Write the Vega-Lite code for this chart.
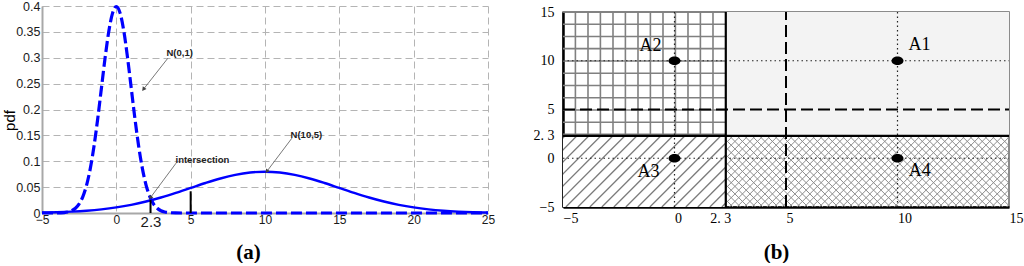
{
"$schema": "https://vega.github.io/schema/vega-lite/v6.json",
"background": "white",
"padding": {"left": 2, "top": 0, "right": 0, "bottom": 0},
"bounds": "flush",
"center": true,
"spacing": 75,
"config": {"view": {"stroke": null}, "axis": {"ticks": false, "labelFlush": false, "labelOverlap": false, "labelBound": false}},
"datasets": {
"curves": [
{"s":"N(0,1)","x":-5,"y":0.0000015},{"s":"N(0,1)","x":-4.5,"y":0.000016},{"s":"N(0,1)","x":-4,"y":0.000134},{"s":"N(0,1)","x":-3.5,"y":0.000873},{"s":"N(0,1)","x":-3.25,"y":0.002029},{"s":"N(0,1)","x":-3,"y":0.004432},{"s":"N(0,1)","x":-2.75,"y":0.009094},{"s":"N(0,1)","x":-2.5,"y":0.017528},{"s":"N(0,1)","x":-2.25,"y":0.03174},{"s":"N(0,1)","x":-2,"y":0.053991},{"s":"N(0,1)","x":-1.75,"y":0.086277},{"s":"N(0,1)","x":-1.5,"y":0.129518},{"s":"N(0,1)","x":-1.25,"y":0.182649},{"s":"N(0,1)","x":-1,"y":0.241971},{"s":"N(0,1)","x":-0.75,"y":0.301137},{"s":"N(0,1)","x":-0.5,"y":0.352065},{"s":"N(0,1)","x":-0.25,"y":0.386668},{"s":"N(0,1)","x":0,"y":0.398942},{"s":"N(0,1)","x":0.25,"y":0.386668},{"s":"N(0,1)","x":0.5,"y":0.352065},{"s":"N(0,1)","x":0.75,"y":0.301137},{"s":"N(0,1)","x":1,"y":0.241971},{"s":"N(0,1)","x":1.25,"y":0.182649},{"s":"N(0,1)","x":1.5,"y":0.129518},{"s":"N(0,1)","x":1.75,"y":0.086277},{"s":"N(0,1)","x":2,"y":0.053991},{"s":"N(0,1)","x":2.25,"y":0.03174},{"s":"N(0,1)","x":2.5,"y":0.017528},{"s":"N(0,1)","x":2.75,"y":0.009094},{"s":"N(0,1)","x":3,"y":0.004432},{"s":"N(0,1)","x":3.25,"y":0.002029},{"s":"N(0,1)","x":3.5,"y":0.000873},{"s":"N(0,1)","x":4,"y":0.000134},{"s":"N(0,1)","x":4.5,"y":0.000016},{"s":"N(0,1)","x":5,"y":0.0000015},{"s":"N(0,1)","x":10,"y":0},{"s":"N(0,1)","x":15,"y":0},{"s":"N(0,1)","x":20,"y":0},{"s":"N(0,1)","x":25,"y":0},
{"s":"N(10,5)","x":-5,"y":0.000886},{"s":"N(10,5)","x":-4,"y":0.001583},{"s":"N(10,5)","x":-3,"y":0.002717},{"s":"N(10,5)","x":-2,"y":0.004479},{"s":"N(10,5)","x":-1,"y":0.007095},{"s":"N(10,5)","x":0,"y":0.010798},{"s":"N(10,5)","x":1,"y":0.01579},{"s":"N(10,5)","x":2,"y":0.022184},{"s":"N(10,5)","x":3,"y":0.029945},{"s":"N(10,5)","x":4,"y":0.038837},{"s":"N(10,5)","x":5,"y":0.048394},{"s":"N(10,5)","x":6,"y":0.057938},{"s":"N(10,5)","x":7,"y":0.066645},{"s":"N(10,5)","x":8,"y":0.073654},{"s":"N(10,5)","x":9,"y":0.078208},{"s":"N(10,5)","x":10,"y":0.079788},{"s":"N(10,5)","x":11,"y":0.078208},{"s":"N(10,5)","x":12,"y":0.073654},{"s":"N(10,5)","x":13,"y":0.066645},{"s":"N(10,5)","x":14,"y":0.057938},{"s":"N(10,5)","x":15,"y":0.048394},{"s":"N(10,5)","x":16,"y":0.038837},{"s":"N(10,5)","x":17,"y":0.029945},{"s":"N(10,5)","x":18,"y":0.022184},{"s":"N(10,5)","x":19,"y":0.01579},{"s":"N(10,5)","x":20,"y":0.010798},{"s":"N(10,5)","x":21,"y":0.007095},{"s":"N(10,5)","x":22,"y":0.004479},{"s":"N(10,5)","x":23,"y":0.002717},{"s":"N(10,5)","x":24,"y":0.001583},{"s":"N(10,5)","x":25,"y":0.000886}
],
"cuts": [{"x":2.3,"y":0,"y2":0.025},{"x":5,"y":0,"y2":0.042}],
"arrows": [{"x":3.458,"y":0.2988,"x2":1.822,"y2":0.239},{"x":4.02,"y":0.0964,"x2":2.29,"y2":0.0295},{"x":11.81,"y":0.1446,"x2":10.12,"y2":0.0802}],
"heads": [{"x":1.822,"y":0.239},{"x":2.29,"y":0.0295},{"x":10.12,"y":0.0802}],
"notes": [{"x":3.37,"y":0.309,"label":"N(0,1)"},{"x":3.98,"y":0.1027,"label":"intersection"},{"x":11.72,"y":0.151,"label":"N(10,5)"}],
"xhatch": [
{"x":-0.9,"y":-5,"x2":2.29,"y2":2.3},{"x":-0.564,"y":-5,"x2":2.626,"y2":2.3},{"x":-0.228,"y":-5,"x2":2.962,"y2":2.3},{"x":0.108,"y":-5,"x2":3.298,"y2":2.3},{"x":0.444,"y":-5,"x2":3.634,"y2":2.3},{"x":0.78,"y":-5,"x2":3.97,"y2":2.3},{"x":1.116,"y":-5,"x2":4.306,"y2":2.3},{"x":1.452,"y":-5,"x2":4.642,"y2":2.3},{"x":1.788,"y":-5,"x2":4.978,"y2":2.3},{"x":2.124,"y":-5,"x2":5.314,"y2":2.3},{"x":2.46,"y":-5,"x2":5.65,"y2":2.3},{"x":2.796,"y":-5,"x2":5.986,"y2":2.3},{"x":3.132,"y":-5,"x2":6.322,"y2":2.3},{"x":3.468,"y":-5,"x2":6.658,"y2":2.3},{"x":3.804,"y":-5,"x2":6.994,"y2":2.3},{"x":4.14,"y":-5,"x2":7.33,"y2":2.3},{"x":4.476,"y":-5,"x2":7.666,"y2":2.3},{"x":4.812,"y":-5,"x2":8.002,"y2":2.3},{"x":5.148,"y":-5,"x2":8.338,"y2":2.3},{"x":5.484,"y":-5,"x2":8.674,"y2":2.3},{"x":5.82,"y":-5,"x2":9.01,"y2":2.3},{"x":6.156,"y":-5,"x2":9.346,"y2":2.3},{"x":6.492,"y":-5,"x2":9.682,"y2":2.3},{"x":6.828,"y":-5,"x2":10.018,"y2":2.3},{"x":7.164,"y":-5,"x2":10.354,"y2":2.3},{"x":7.5,"y":-5,"x2":10.69,"y2":2.3},{"x":7.836,"y":-5,"x2":11.026,"y2":2.3},{"x":8.172,"y":-5,"x2":11.362,"y2":2.3},{"x":8.508,"y":-5,"x2":11.698,"y2":2.3},{"x":8.844,"y":-5,"x2":12.034,"y2":2.3},{"x":9.18,"y":-5,"x2":12.37,"y2":2.3},{"x":9.516,"y":-5,"x2":12.706,"y2":2.3},{"x":9.852,"y":-5,"x2":13.042,"y2":2.3},{"x":10.188,"y":-5,"x2":13.378,"y2":2.3},{"x":10.524,"y":-5,"x2":13.714,"y2":2.3},{"x":10.86,"y":-5,"x2":14.05,"y2":2.3},{"x":11.196,"y":-5,"x2":14.386,"y2":2.3},{"x":11.532,"y":-5,"x2":14.722,"y2":2.3},{"x":11.868,"y":-5,"x2":15.058,"y2":2.3},{"x":12.204,"y":-5,"x2":15.394,"y2":2.3},{"x":12.54,"y":-5,"x2":15.73,"y2":2.3},{"x":12.876,"y":-5,"x2":16.066,"y2":2.3},{"x":13.212,"y":-5,"x2":16.402,"y2":2.3},{"x":13.548,"y":-5,"x2":16.738,"y2":2.3},{"x":13.884,"y":-5,"x2":17.074,"y2":2.3},{"x":14.22,"y":-5,"x2":17.41,"y2":2.3},{"x":14.556,"y":-5,"x2":17.746,"y2":2.3},{"x":14.892,"y":-5,"x2":18.082,"y2":2.3},
{"x":-0.9,"y":2.3,"x2":2.29,"y2":-5},{"x":-0.564,"y":2.3,"x2":2.626,"y2":-5},{"x":-0.228,"y":2.3,"x2":2.962,"y2":-5},{"x":0.108,"y":2.3,"x2":3.298,"y2":-5},{"x":0.444,"y":2.3,"x2":3.634,"y2":-5},{"x":0.78,"y":2.3,"x2":3.97,"y2":-5},{"x":1.116,"y":2.3,"x2":4.306,"y2":-5},{"x":1.452,"y":2.3,"x2":4.642,"y2":-5},{"x":1.788,"y":2.3,"x2":4.978,"y2":-5},{"x":2.124,"y":2.3,"x2":5.314,"y2":-5},{"x":2.46,"y":2.3,"x2":5.65,"y2":-5},{"x":2.796,"y":2.3,"x2":5.986,"y2":-5},{"x":3.132,"y":2.3,"x2":6.322,"y2":-5},{"x":3.468,"y":2.3,"x2":6.658,"y2":-5},{"x":3.804,"y":2.3,"x2":6.994,"y2":-5},{"x":4.14,"y":2.3,"x2":7.33,"y2":-5},{"x":4.476,"y":2.3,"x2":7.666,"y2":-5},{"x":4.812,"y":2.3,"x2":8.002,"y2":-5},{"x":5.148,"y":2.3,"x2":8.338,"y2":-5},{"x":5.484,"y":2.3,"x2":8.674,"y2":-5},{"x":5.82,"y":2.3,"x2":9.01,"y2":-5},{"x":6.156,"y":2.3,"x2":9.346,"y2":-5},{"x":6.492,"y":2.3,"x2":9.682,"y2":-5},{"x":6.828,"y":2.3,"x2":10.018,"y2":-5},{"x":7.164,"y":2.3,"x2":10.354,"y2":-5},{"x":7.5,"y":2.3,"x2":10.69,"y2":-5},{"x":7.836,"y":2.3,"x2":11.026,"y2":-5},{"x":8.172,"y":2.3,"x2":11.362,"y2":-5},{"x":8.508,"y":2.3,"x2":11.698,"y2":-5},{"x":8.844,"y":2.3,"x2":12.034,"y2":-5},{"x":9.18,"y":2.3,"x2":12.37,"y2":-5},{"x":9.516,"y":2.3,"x2":12.706,"y2":-5},{"x":9.852,"y":2.3,"x2":13.042,"y2":-5},{"x":10.188,"y":2.3,"x2":13.378,"y2":-5},{"x":10.524,"y":2.3,"x2":13.714,"y2":-5},{"x":10.86,"y":2.3,"x2":14.05,"y2":-5},{"x":11.196,"y":2.3,"x2":14.386,"y2":-5},{"x":11.532,"y":2.3,"x2":14.722,"y2":-5},{"x":11.868,"y":2.3,"x2":15.058,"y2":-5},{"x":12.204,"y":2.3,"x2":15.394,"y2":-5},{"x":12.54,"y":2.3,"x2":15.73,"y2":-5},{"x":12.876,"y":2.3,"x2":16.066,"y2":-5},{"x":13.212,"y":2.3,"x2":16.402,"y2":-5},{"x":13.548,"y":2.3,"x2":16.738,"y2":-5},{"x":13.884,"y":2.3,"x2":17.074,"y2":-5},{"x":14.22,"y":2.3,"x2":17.41,"y2":-5},{"x":14.556,"y":2.3,"x2":17.746,"y2":-5},{"x":14.892,"y":2.3,"x2":18.082,"y2":-5}
],
"regions": [{"r":"A1","x":2.3,"y":2.3,"x2":15,"y2":15},{"r":"A3","x":-5,"y":-5,"x2":2.3,"y2":2.3}],
"hatch": [
{"x":-8.1,"y":-5,"x2":-4.91,"y2":2.3},{"x":-7.562,"y":-5,"x2":-4.372,"y2":2.3},{"x":-7.024,"y":-5,"x2":-3.834,"y2":2.3},{"x":-6.486,"y":-5,"x2":-3.296,"y2":2.3},{"x":-5.948,"y":-5,"x2":-2.758,"y2":2.3},{"x":-5.41,"y":-5,"x2":-2.22,"y2":2.3},{"x":-4.872,"y":-5,"x2":-1.682,"y2":2.3},{"x":-4.334,"y":-5,"x2":-1.144,"y2":2.3},{"x":-3.796,"y":-5,"x2":-0.606,"y2":2.3},{"x":-3.258,"y":-5,"x2":-0.068,"y2":2.3},{"x":-2.72,"y":-5,"x2":0.47,"y2":2.3},{"x":-2.182,"y":-5,"x2":1.008,"y2":2.3},{"x":-1.644,"y":-5,"x2":1.546,"y2":2.3},{"x":-1.106,"y":-5,"x2":2.084,"y2":2.3},{"x":-0.568,"y":-5,"x2":2.3,"y2":1.559},{"x":-0.03,"y":-5,"x2":2.3,"y2":0.329},{"x":0.508,"y":-5,"x2":2.3,"y2":-0.902},{"x":1.046,"y":-5,"x2":2.3,"y2":-2.132},{"x":1.584,"y":-5,"x2":2.3,"y2":-3.363},{"x":2.122,"y":-5,"x2":2.3,"y2":-4.593}
],
"gridv": [{"x":-4.444,"y":2.3,"y2":15},{"x":-3.879,"y":2.3,"y2":15},{"x":-3.323,"y":2.3,"y2":15},{"x":-2.758,"y":2.3,"y2":15},{"x":-2.202,"y":2.3,"y2":15},{"x":-1.637,"y":2.3,"y2":15},{"x":-1.081,"y":2.3,"y2":15},{"x":-0.516,"y":2.3,"y2":15},{"x":0.04,"y":2.3,"y2":15},{"x":0.605,"y":2.3,"y2":15},{"x":1.161,"y":2.3,"y2":15},{"x":1.726,"y":2.3,"y2":15}],
"gridh": [{"y":15,"x":-5,"x2":2.3},{"y":13.74,"x":-5,"x2":2.3},{"y":12.49,"x":-5,"x2":2.3},{"y":11.24,"x":-5,"x2":2.3},{"y":9.98,"x":-5,"x2":2.3},{"y":8.72,"x":-5,"x2":2.3},{"y":7.46,"x":-5,"x2":2.3},{"y":6.2,"x":-5,"x2":2.3},{"y":4.95,"x":-5,"x2":2.3},{"y":3.7,"x":-5,"x2":2.3},{"y":2.45,"x":-5,"x2":2.3}],
"dotv": [{"x":0,"y":-5,"y2":15},{"x":10,"y":-5,"y2":15}],
"doth": [{"y":0,"x":-5,"x2":15},{"y":10,"x":-5,"x2":15}],
"dashv": [{"x":5,"y":-5,"y2":15}],
"dashh": [{"y":5,"x":-5,"x2":15}],
"solidv": [{"x":2.3,"y":-5,"y2":15}],
"solidh": [{"y":2.3,"x":-5,"x2":15}],
"pts": [{"x":0,"y":10},{"x":10,"y":10},{"x":0,"y":0},{"x":10,"y":0}],
"labs": [{"x":-1.08,"y":11.55,"label":"A2"},{"x":10.99,"y":11.6,"label":"A1"},{"x":-1.17,"y":-1.39,"label":"A3"},{"x":11.0,"y":-1.34,"label":"A4"}]
},
"hconcat": [
{
"width": 446, "height": 207,
"encoding": {
"x": {"field": "x", "type": "quantitative", "scale": {"domain": [-5, 25], "nice": false, "zero": false},
"axis": {"values": [-5, 0, 2.3, 5, 10, 15, 20, 25], "format": ".1~f", "grid": true, "gridColor": "#b4b4b4", "gridDash": [7, 4], "gridWidth": 1,
"gridOpacity": {"condition": {"test": "datum.value === 2.3", "value": 0}, "value": 1},
"domainColor": "#a8a8a8", "domainWidth": 2, "labelFont": "Liberation Sans",
"labelFontSize": {"condition": {"test": "datum.value === 2.3", "value": 15}, "value": 12},
"labelColor": "#1a1a1a", "labelPadding": 1,
"title": "(a)", "titleFont": "Liberation Serif", "titleFontWeight": "bold", "titleFontSize": 21, "titleColor": "#000", "titleX": 206, "titleY": 39, "titleBaseline": "middle", "titleAlign": "center"}},
"y": {"field": "y", "type": "quantitative", "scale": {"domain": [0, 0.4], "nice": false, "zero": false},
"axis": {"values": [0, 0.05, 0.1, 0.15, 0.2, 0.25, 0.3, 0.35, 0.4], "format": ".2~f", "grid": true, "gridColor": "#b4b4b4", "gridDash": [7, 4], "gridWidth": 1,
"domainColor": "#a8a8a8", "domainWidth": 2, "labelFont": "Liberation Sans", "labelFontSize": 12.5, "labelColor": "#1a1a1a", "labelPadding": 2,
"title": "pdf", "titleFont": "Liberation Sans", "titleFontSize": 15, "titleFontWeight": "normal", "titleColor": "#000", "titleX": -33, "titleY": 114, "titleBaseline": "middle", "titleAlign": "center", "titleAngle": -90}}
},
"layer": [
{"data": {"name": "curves"}, "transform": [{"filter": "datum.s === 'N(10,5)'"}], "mark": {"type": "line", "color": "#0000ff", "strokeWidth": 2.4, "interpolate": "monotone"}},
{"data": {"name": "curves"}, "transform": [{"filter": "datum.s === 'N(0,1)'"}], "mark": {"type": "line", "color": "#0000ff", "strokeWidth": 3.2, "strokeDash": [11, 4], "interpolate": "monotone"}},
{"data": {"name": "cuts"}, "mark": {"type": "rule", "color": "#000", "strokeWidth": 2}, "encoding": {"y2": {"field": "y2"}}},
{"data": {"name": "arrows"}, "mark": {"type": "rule", "color": "#555", "strokeWidth": 0.8}, "encoding": {"x2": {"field": "x2"}, "y2": {"field": "y2"}}},
{"data": {"name": "heads"}, "mark": {"type": "point", "shape": "triangle-up", "filled": true, "color": "#444", "size": 22, "angle": 217, "opacity": 1}},
{"data": {"name": "notes"}, "mark": {"type": "text", "align": "left", "baseline": "middle", "font": "Liberation Sans", "fontSize": 9.5, "fontWeight": "bold", "color": "#222"}, "encoding": {"text": {"field": "label"}}}
]
},
{
"width": 446, "height": 195,
"view": {"stroke": "#666", "strokeWidth": 1.5},
"encoding": {
"x": {"field": "x", "type": "quantitative", "scale": {"domain": [-5, 15], "nice": false, "zero": false},
"axis": {"values": [-5, 0, 2.3, 5, 10, 15], "format": ".1~f", "labelExpr": "datum.value === 2.3 ? '2. 3' : datum.label", "grid": false,
"domainColor": "#000", "domainWidth": 2.5, "labelFont": "Liberation Serif", "labelFontSize": 14, "labelColor": "#000", "labelAlign": "left",
"labelOffset": {"condition": {"test": "datum.value === 2.3", "value": -16}, "value": 0}, "labelPadding": 4,
"title": "(b)", "titleFont": "Liberation Serif", "titleFontWeight": "bold", "titleFontSize": 21, "titleColor": "#000", "titleX": 213, "titleY": 45, "titleBaseline": "middle", "titleAlign": "center"}},
"y": {"field": "y", "type": "quantitative", "scale": {"domain": [-5, 15], "nice": false, "zero": false},
"axis": {"values": [-5, 0, 2.3, 5, 10, 15], "format": ".1~f", "labelExpr": "datum.value === 2.3 ? '2. 3' : datum.label", "grid": false,
"domainColor": "#000", "domainWidth": 2.5, "labelFont": "Liberation Serif", "labelFontSize": 14, "labelColor": "#000", "labelPadding": 9, "title": null}}
},
"layer": [
{"data": {"name": "xhatch"}, "mark": {"type": "rule", "color": "#8c8c8c", "strokeWidth": 1, "clip": true}, "encoding": {"x2": {"field": "x2"}, "y2": {"field": "y2"}}},
{"data": {"name": "regions"}, "mark": {"type": "rect", "opacity": 1}, "encoding": {"x2": {"field": "x2"}, "y2": {"field": "y2"}, "color": {"field": "r", "type": "nominal", "scale": {"domain": ["A1", "A3"], "range": ["#f3f3f3", "#ffffff"]}, "legend": null}}},
{"data": {"name": "hatch"}, "mark": {"type": "rule", "color": "#7a7a7a", "strokeWidth": 1.3, "clip": true}, "encoding": {"x2": {"field": "x2"}, "y2": {"field": "y2"}}},
{"data": {"name": "gridv"}, "mark": {"type": "rule", "color": "#808080", "strokeWidth": 1.6}, "encoding": {"y2": {"field": "y2"}}},
{"data": {"name": "gridh"}, "mark": {"type": "rule", "color": "#808080", "strokeWidth": 1.6}, "encoding": {"x2": {"field": "x2"}}},
{"data": {"name": "dotv"}, "mark": {"type": "rule", "color": "#222", "strokeWidth": 1.2, "strokeDash": [1.5, 3]}, "encoding": {"y2": {"field": "y2"}}},
{"data": {"name": "doth"}, "mark": {"type": "rule", "color": "#222", "strokeWidth": 1.2, "strokeDash": [1.5, 3]}, "encoding": {"x2": {"field": "x2"}}},
{"data": {"name": "dashv"}, "mark": {"type": "rule", "color": "#000", "strokeWidth": 2, "strokeDash": [12, 5]}, "encoding": {"y2": {"field": "y2"}}},
{"data": {"name": "dashh"}, "mark": {"type": "rule", "color": "#000", "strokeWidth": 2, "strokeDash": [12, 5]}, "encoding": {"x2": {"field": "x2"}}},
{"data": {"name": "solidv"}, "mark": {"type": "rule", "color": "#000", "strokeWidth": 2.2}, "encoding": {"y2": {"field": "y2"}}},
{"data": {"name": "solidh"}, "mark": {"type": "rule", "color": "#000", "strokeWidth": 2.2}, "encoding": {"x2": {"field": "x2"}}},
{"data": {"name": "pts"}, "mark": {"type": "point", "shape": "M-1,0A1,0.72,0,1,0,1,0A1,0.72,0,1,0,-1,0Z", "filled": true, "color": "#000", "size": 144, "opacity": 1}},
{"data": {"name": "labs"}, "mark": {"type": "text", "font": "Liberation Serif", "fontSize": 18, "color": "#000", "align": "center", "baseline": "middle"}, "encoding": {"text": {"field": "label"}}}
]
}
]
}
